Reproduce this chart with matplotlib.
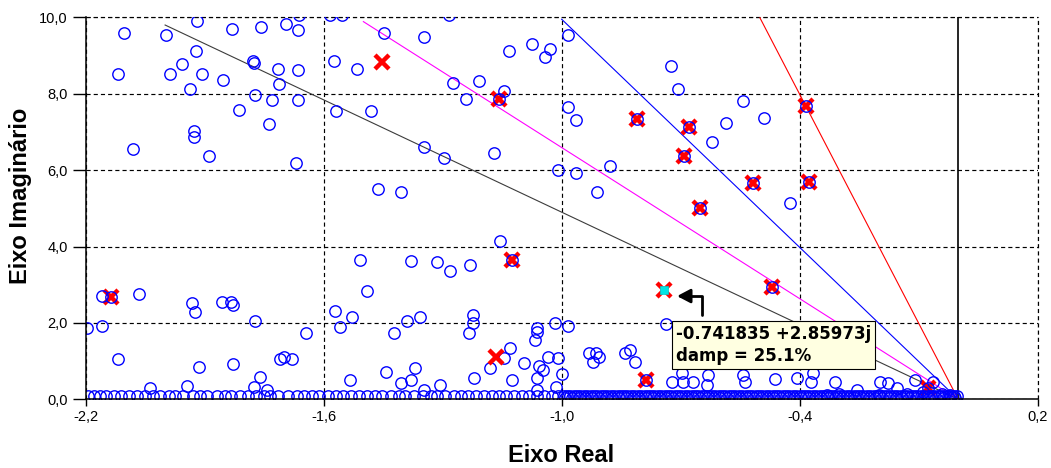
import matplotlib
matplotlib.use('Agg')
import matplotlib.pyplot as plt
import numpy as np
from matplotlib.transforms import offset_copy

# ---------------- data ----------------
circ_x = [-2.103, -1.998, -1.920, -1.832, -1.757, -1.694, -1.666, -1.663, -1.923, -1.958,
          -2.118, -1.988, -1.908, -1.853, -1.937, -1.778, -1.775, -1.716, -1.666, -1.713,
          -1.774, -1.731, -1.666, -1.813, -1.737, -1.926, -1.926, -2.082, -1.889, -1.669,
          -1.583, -1.553, -1.285, -1.449, -1.346, -1.575, -1.517, -1.133, -1.076, -1.029,
          -1.042, -1.274, -1.209, -1.145, -1.241, -1.570, -1.482, -1.346, -1.296, -1.170,
          -1.010, -1.463, -1.405, -0.985, -0.985, -0.724, -0.706, -0.963, -0.543, -0.489,
          -0.586, -0.622, -0.879, -0.963, -0.911, -0.424, -2.160, -2.067, -1.933, -1.925,
          -1.857, -1.833, -1.830, -1.774, -2.160, -2.196, -1.644, -2.118, -1.915, -1.829,
          -1.711, -1.700, -1.679, -1.761, -1.776, -1.743, -1.946, -2.039, -1.155, -1.509,
          -1.379, -1.314, -1.281, -1.230, -1.490, -1.572, -1.528, -1.560, -1.390, -1.356,
          -1.423, -1.224, -1.224, -1.234, -1.062, -1.062, -1.068, -1.018, -0.983, -1.129,
          -1.146, -1.180, -1.094, -1.058, -1.047, -1.035, -1.008, -0.999, -1.062, -1.125,
          -1.220, -1.534, -1.444, -1.371, -1.381, -1.405, -1.306, -1.346, -1.014, -1.062,
          -0.736, -0.932, -0.913, -0.907, -0.921, -0.840, -0.827, -0.815, -0.722, -0.697,
          -0.693, -0.668, -0.630, -0.634, -0.542, -0.538, -0.462, -0.407, -0.365, -0.370,
          -0.311, -0.197, -0.177, -0.109, -0.063, -0.256, -0.155, -0.040, -0.020, -0.090,
          -0.130, -0.200, -0.300, -0.330]
circ_y = [9.60, 9.53, 9.90, 9.69, 9.75, 9.82, 9.67, 10.05, 9.11, 8.78,
          8.52, 8.52, 8.52, 8.36, 8.13, 8.86, 8.80, 8.65, 8.62, 8.25,
          7.96, 7.84, 7.84, 7.58, 7.20, 7.02, 6.86, 6.56, 6.38, 6.18,
          10.05, 10.05, 10.05, 9.60, 9.49, 8.86, 8.65, 9.12, 9.30, 9.16,
          8.95, 8.29, 8.33, 8.07, 7.85, 7.55, 7.54, 6.61, 6.32, 6.44,
          6.00, 5.51, 5.43, 9.54, 7.65, 8.73, 8.12, 7.31, 7.81, 7.36,
          7.23, 6.74, 6.12, 5.92, 5.43, 5.15, 2.71, 2.76, 2.51, 2.29,
          2.54, 2.54, 2.46, 2.05, 1.93, 1.86, 1.74, 1.06, 0.84, 0.93,
          1.05, 1.12, 1.05, 0.58, 0.33, 0.24, 0.36, 0.29, 4.14, 3.65,
          3.62, 3.59, 3.37, 3.52, 2.84, 2.31, 2.16, 1.90, 2.05, 2.16,
          1.74, 2.21, 1.99, 1.74, 1.86, 1.77, 1.55, 1.99, 1.92, 1.34,
          1.07, 0.83, 0.96, 0.87, 0.77, 1.12, 1.07, 0.66, 0.55, 0.51,
          0.55, 0.51, 0.72, 0.81, 0.51, 0.43, 0.37, 0.24, 0.31, 0.24,
          1.97, 1.20, 1.22, 1.12, 0.97, 1.20, 1.29, 0.97, 0.46, 0.68,
          0.46, 0.46, 0.64, 0.37, 0.64, 0.46, 0.52, 0.55, 0.68, 0.46,
          0.46, 0.46, 0.42, 0.51, 0.46, 0.24, 0.29, 0.15, 0.10, 0.20,
          0.15, 0.12, 0.15, 0.12]

# poles lying (almost) on the real axis
band_x = [-2.195, -2.180, -2.165, -2.150, -2.128, -2.110, -2.090, -2.072, -2.050, -2.030,
          -2.012, -1.990, -1.975, -1.955, -1.930, -1.912, -1.895, -1.870, -1.850, -1.833,
          -1.810, -1.790, -1.772, -1.750, -1.735, -1.715, -1.690, -1.668, -1.650, -1.630,
          -1.612, -1.590, -1.570, -1.552, -1.530, -1.510, -1.492, -1.470, -1.452, -1.430,
          -1.410, -1.395, -1.372, -1.350, -1.330, -1.315, -1.295, -1.272, -1.255, -1.235,
          -1.215, -1.195, -1.175, -1.158, -1.140, -1.120, -1.100, -1.082, -1.062, -1.045,
          -1.025, -1.008,
          -0.995, -0.987, -0.978, -0.970, -0.961, -0.953, -0.944, -0.936, -0.927, -0.919,
          -0.910, -0.902, -0.893, -0.885, -0.876, -0.868, -0.859, -0.851, -0.842, -0.834,
          -0.825, -0.817, -0.808, -0.800, -0.791, -0.783, -0.774, -0.766, -0.757, -0.749,
          -0.740, -0.732, -0.723, -0.715, -0.706, -0.698, -0.689, -0.681, -0.672, -0.664,
          -0.655, -0.647, -0.638, -0.630, -0.621, -0.613, -0.604, -0.596, -0.587, -0.579,
          -0.570, -0.562, -0.553, -0.545, -0.536, -0.528, -0.519, -0.511, -0.502, -0.494,
          -0.485, -0.477, -0.468, -0.460, -0.451, -0.443, -0.434, -0.426, -0.417, -0.409,
          -0.400, -0.392, -0.383, -0.375, -0.366, -0.358, -0.349, -0.341, -0.332, -0.324,
          -0.315, -0.307, -0.298, -0.290, -0.281, -0.273, -0.264, -0.256, -0.247, -0.239,
          -0.230, -0.222, -0.213, -0.205, -0.196, -0.188, -0.179, -0.171, -0.162, -0.154,
          -0.145, -0.137, -0.128, -0.120, -0.111, -0.103, -0.094, -0.086, -0.077, -0.069,
          -0.060, -0.052, -0.043, -0.035, -0.026, -0.018, -0.010, -0.004]
band_level = 0.09
# second, lower row of real-axis poles in the dense right part
band2_x = [-0.991, -0.974, -0.957, -0.940, -0.923, -0.906, -0.889, -0.872, -0.855, -0.838,
           -0.821, -0.804, -0.787, -0.770, -0.753, -0.736, -0.719, -0.702, -0.685, -0.668,
           -0.651, -0.634, -0.617, -0.600, -0.583, -0.566, -0.549, -0.532, -0.515, -0.498,
           -0.481, -0.464, -0.447, -0.430, -0.413, -0.396, -0.379, -0.362, -0.345, -0.328,
           -0.311, -0.294, -0.277, -0.260, -0.243, -0.226, -0.209, -0.192, -0.175, -0.158,
           -0.141, -0.124, -0.107, -0.090, -0.073, -0.056, -0.039, -0.022, -0.008]
band2_level = 0.03

# poles marked with a red X on top of the circle
xc_x = [-1.157, -0.809, -0.679, -0.691, -0.518, -0.651, -0.384, -0.375, -2.137, -1.125,
        -0.469, -0.787, -0.076]
xc_y = [7.85, 7.34, 7.12, 6.38, 5.65, 5.00, 7.68, 5.70, 2.69, 3.65,
        2.93, 0.51, 0.29]

# red X without circle
xo_x = [-1.454, -1.166]
xo_y = [8.82, 1.12]

# selected pole
sel_x = -0.741835
sel_y = 2.85973
sel_text = "-0.741835 +2.85973j\ndamp = 25.1%"

# constant damping lines
damp_ratios = [0.05, 0.10, 0.15, 0.20]
damp_colors = ['#FF0000', '#0000FF', '#FF00FF', '#3C3C3C']
line_radius = 10.0

x_ticks = [-2.2, -1.6, -1.0, -0.4, 0.2]
x_tick_labels = ['-2,2', '-1,6', '-1,0', '-0,4', '0,2']
y_ticks = [0, 2, 4, 6, 8, 10]
y_tick_labels = ['0,0', '2,0', '4,0', '6,0', '8,0', '10,0']

# ---------------- figure ----------------
W, H = 1051, 468
fig = plt.figure(figsize=(W / 100, H / 100), dpi=100)
ax = fig.add_axes([85.8 / W, 1 - 399.3 / H, (1037.5 - 85.8) / W, (399.3 - 17.3) / H])
ax.set_xlim(-2.2, 0.2)
ax.set_ylim(0, 10)

ax.set_xticks(x_ticks)
ax.set_xticklabels(x_tick_labels, family='Liberation Sans', fontsize=10.5)
ax.set_yticks(y_ticks)
ax.set_yticklabels(y_tick_labels, family='Liberation Sans', fontsize=10.5)
ax.tick_params(axis='y', direction='out', length=9.5, width=1.0, pad=3.5, colors='black')
ax.tick_params(axis='x', direction='out', length=5, width=1.0, pad=3, colors='black')

grid_ls = (0, (3.5, 2.6))
ax.grid(True, color='black', linestyle=grid_ls, linewidth=0.85)
ax.set_axisbelow(True)
for s in ['top', 'right']:
    ax.spines[s].set_visible(False)
for s in ['left', 'bottom']:
    ax.spines[s].set_linewidth(1.1)
    ax.spines[s].set_zorder(6)
ax.axvline(x_ticks[-1], color='black', linestyle=grid_ls, linewidth=0.85, clip_on=False, zorder=1)
ax.axhline(y_ticks[-1], color='black', linestyle=grid_ls, linewidth=0.85, clip_on=False, zorder=1)

ax.axvline(0, color='black', lw=1.2, zorder=1.5)

for z, c in zip(damp_ratios, damp_colors):
    ax.plot([0, -z * line_radius], [0, np.sqrt(1 - z * z) * line_radius],
            color=c, lw=0.8, zorder=2)

ax.plot(xc_x, xc_y, linestyle='none', marker='x', ms=9.5, mew=3.2,
        color='#FF0000', zorder=3)
ax.plot(xo_x, xo_y, linestyle='none', marker='x', ms=9.5, mew=3.2,
        color='#FF0000', zorder=5)

ax.plot(circ_x + xc_x, circ_y + xc_y, linestyle='none', marker='o', ms=8.2,
        mfc='none', mec='#0000FF', mew=1.0, zorder=4)
ax.plot(band_x, [band_level] * len(band_x), linestyle='none', marker='o', ms=8.2,
        mfc='none', mec='#0000FF', mew=1.0, zorder=4)
ax.plot(band2_x, [band2_level] * len(band2_x), linestyle='none', marker='o', ms=8.2,
        mfc='none', mec='#0000FF', mew=1.0, zorder=4)

# selected pole
ax.plot([sel_x], [sel_y], linestyle='none', marker='x', ms=9.5, mew=3.2,
        color='#FF0000', zorder=6)
ax.plot([sel_x], [sel_y], linestyle='none', marker='s', ms=6.2,
        mfc='#00E5E5', mec='#00CCCC', mew=0.5, zorder=7)

# annotation
tip = offset_copy(ax.transData, fig=fig, x=13, y=-6, units='dots')
ax.annotate('', xy=(sel_x, sel_y), xycoords=tip,
            xytext=(25, -19), textcoords='offset pixels',
            arrowprops=dict(arrowstyle='-|>,head_length=0.8,head_width=0.42',
                            connectionstyle='angle,angleA=90,angleB=0,rad=0',
                            color='black', lw=2.0, mutation_scale=10,
                            shrinkA=0, shrinkB=0),
            zorder=8)
ax.annotate(sel_text, xy=(sel_x, sel_y), xycoords='data',
            xytext=(12, -35), textcoords='offset pixels',
            ha='left', va='top', fontsize=12, fontweight='bold',
            family='DejaVu Sans', linespacing=1.3, color='black',
            bbox=dict(boxstyle='square,pad=0.22', fc='#FFFFE1', ec='black', lw=0.8),
            zorder=9)

fig.text(561 / W, 1 - 456 / H, 'Eixo Real', ha='center', va='center',
         family='Liberation Sans', fontweight='bold', fontsize=17)
fig.text(21 / W, 1 - 196 / H, 'Eixo Imaginário', ha='center', va='center',
         rotation=90, family='Liberation Sans', fontweight='bold', fontsize=17)

fig.savefig('out.png', dpi=100)
